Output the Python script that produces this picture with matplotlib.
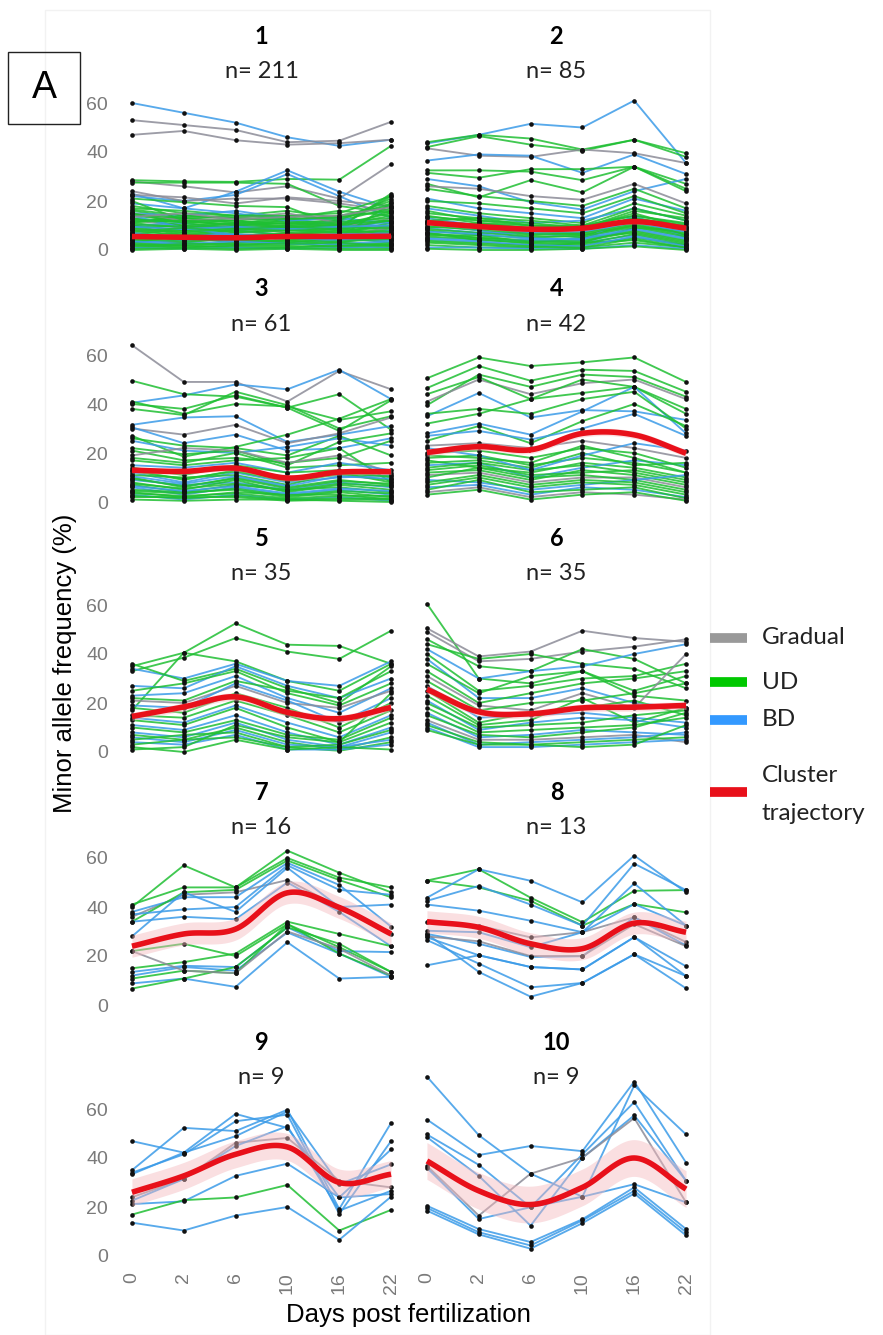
import numpy as np
import matplotlib.pyplot as plt
from matplotlib.lines import Line2D
from matplotlib.patches import Rectangle

days = ['0', '2', '6', '10', '16', '22']
counts = [211, 85, 61, 42, 35, 35, 16, 13, 9, 9]

# each row: trajectory class (G = gradual, U = UD, B = BD) + MAF at each day
p1 = [
    ('B', 60, 56, 52, 46, 42.5, 45), ('G', 53, 51, 49, 44, 44.6, 52.3),
    ('G', 47, 48.6, 44.8, 43, 43.6, 45), ('U', 28.5, 28, 27.8, 29, 28.7, 42.5),
    ('G', 28, 26, 23.5, 26, 21, 35), ('U', 27.5, 27.5, 27.5, 27, 18, 15),
    ('B', 23, 17, 23.8, 32.5, 23.8, 17), ('B', 22, 20, 22.5, 31, 22, 13),
    ('G', 24, 20, 21, 21, 19, 16), ('G', 22.5, 21.5, 19, 21.5, 20, 18),
    ('U', 21, 19.5, 18, 17.5, 9.7, 22), ('U', 18, 15, 14, 16, 13, 20),
    ('U', 16, 13, 12, 14, 15, 22), ('B', 15, 14, 16, 13, 10, 11),
    ('U', 14, 12, 10, 11, 12, 17), ('U', 13, 11, 12, 9, 10, 14),
    ('G', 12, 10, 9, 10, 8, 13), ('U', 12, 13, 11, 12, 11, 12),
    ('U', 11, 9, 10, 12, 9, 10), ('B', 10, 11, 8, 9, 12, 9),
    ('U', 10, 8, 9, 8, 7, 11), ('U', 9, 10, 7, 9, 10, 8),
    ('U', 9, 7, 8, 10, 8, 7), ('G', 8, 9, 10, 7, 6, 9),
    ('U', 8, 6, 7, 8, 9, 6), ('U', 7, 8, 6, 7, 7, 8),
    ('B', 7, 5, 8, 6, 5, 7), ('U', 6, 7, 5, 6, 8, 5),
    ('U', 6, 4, 6, 5, 6, 6), ('U', 5, 6, 4, 7, 4, 5),
    ('G', 5, 5, 6, 4, 5, 4), ('U', 4, 3, 5, 5, 3, 6),
    ('U', 4, 5, 3, 4, 5, 3), ('B', 3, 4, 4, 3, 4, 4),
    ('U', 3, 2, 3, 4, 2, 3), ('U', 2, 3, 2, 2, 3, 2),
    ('U', 2, 1, 2, 3, 1, 2), ('U', 1, 2, 1, 1, 2, 1),
    ('B', 1, 0.5, 1, 0.5, 1, 1), ('U', 0.5, 1, 0.5, 1, 0.5, 0.5),
    ('U', 0, 0.5, 0, 0.5, 0, 0), ('U', 11, 14, 13, 12, 14, 18),
    ('U', 13, 10, 11, 13, 12, 21), ('B', 19, 17, 15, 12, 13, 11),
    ('U', 17, 16, 14, 13, 16, 14), ('G', 15, 12, 13, 15, 11, 9),
    ('U', 20, 12, 10, 11, 9, 16), ('U', 6, 9, 11, 9, 7, 10),
    ('U', 3, 6, 8, 6, 9, 12), ('U', 15, 11, 9, 8, 9, 23),
    ('U', 10, 6, 4, 3, 5, 19), ('B', 14, 9, 6, 5, 4, 8),
    ('U', 12.5, 11.5, 10.5, 11, 10.5, 15), ('U', 11.5, 12, 12, 10.5, 11.5, 13),
    ('U', 10.5, 9.5, 9.5, 10, 10.5, 12), ('B', 9.5, 8.5, 9.5, 8.5, 9.5, 10),
    ('U', 8.5, 7.5, 8.5, 9.5, 8.5, 9), ('U', 7.5, 9, 7.5, 8, 7.5, 7.5),
    ('B', 6.5, 5.5, 6.5, 5.5, 6.5, 6.5), ('U', 5.5, 4.5, 5.5, 6.5, 5.5, 5.5),
    ('U', 4.5, 3.5, 4.5, 3.5, 3.5, 4.5), ('B', 3.5, 2.5, 3.5, 2.5, 2.5, 3.5),
    ('U', 2.5, 1.5, 1.5, 1.5, 1.5, 2.5), ('U', 1.5, 2.5, 2.5, 2.5, 3, 1.5),
    ('U', 16.5, 14, 13, 12.5, 13.5, 16), ('U', 14.5, 13, 14, 14, 12.5, 19),
    ('G', 13.5, 15, 12.5, 13.5, 14, 17.5),
]
p2 = [
    ('B', 43.5, 47, 51.5, 50, 61, 35.5), ('U', 44, 47, 45.5, 41, 45, 39.5),
    ('U', 42, 46.5, 43, 40.5, 45, 38), ('G', 41.5, 38.5, 38, 41, 39.5, 35.5),
    ('B', 36.5, 39, 38.5, 31.5, 39, 31), ('U', 32.5, 32.5, 32, 28.5, 34, 25),
    ('U', 31.5, 29.5, 33, 33, 34, 27), ('B', 29, 26, 19.5, 16.5, 24, 29),
    ('U', 27, 21.5, 28.5, 23.5, 34, 24), ('G', 26, 25, 22, 20.5, 27, 19),
    ('U', 25, 22, 20, 18, 25, 17), ('B', 21, 17, 15, 13, 21, 16),
    ('U', 20, 19, 17, 15, 22, 15), ('U', 18, 15, 13, 11, 19, 14),
    ('B', 17, 14, 11, 12, 17, 12), ('U', 16, 12, 11, 9, 16, 13),
    ('U', 15, 13, 10, 10, 14, 11), ('U', 14, 11, 9, 8, 13, 10),
    ('B', 13, 10, 8, 9, 12, 9), ('U', 12, 9, 7, 7, 11, 8),
    ('U', 11, 10, 8, 6, 10, 7), ('U', 10, 8, 6, 7, 12, 6),
    ('B', 9, 7, 7, 5, 9, 5), ('U', 8, 6, 5, 6, 10, 6),
    ('U', 7, 5, 4, 4, 8, 4), ('U', 6, 6, 3, 5, 7, 3),
    ('B', 5, 4, 4, 3, 6, 2), ('U', 4, 3, 2, 2, 5, 2),
    ('U', 3, 2, 1, 3, 4, 1), ('U', 2, 1, 1, 1, 3, 1),
    ('B', 1, 1, 0.5, 0.5, 2, 0.5), ('U', 0.5, 0, 0, 0.5, 1.5, 0),
    ('U', 12, 13, 12, 10, 17, 12), ('U', 9, 11, 10, 9, 15, 9),
    ('B', 11, 8, 5, 4, 14, 5), ('U', 7, 4, 3, 3, 9, 8),
    ('U', 13.5, 12, 10, 9.5, 14, 10.5), ('U', 11.5, 10.5, 9, 8.5, 13, 9.5),
    ('B', 10.5, 9, 7.5, 7.5, 11, 7.5), ('U', 9.5, 8.5, 6.5, 6.5, 10.5, 6.5),
    ('U', 8.5, 7, 5.5, 5.5, 9.5, 5.5), ('B', 7.5, 6.5, 4.5, 4.5, 8.5, 4.5),
    ('U', 6.5, 5, 3.5, 3.5, 7.5, 3.5), ('U', 5.5, 4.5, 2.5, 2.5, 6.5, 2.5),
    ('B', 4.5, 3.5, 2, 1.5, 5.5, 1.5), ('U', 3.5, 2.5, 1.5, 1, 4.5, 1),
]
p3 = [
    ('G', 64, 49, 49, 41, 53.5, 46), ('B', 40.5, 43.5, 48, 46, 54, 42),
    ('U', 49.5, 44, 43, 38.5, 44, 29.5), ('U', 40, 38, 43.5, 38.5, 29, 41.5),
    ('U', 41, 36, 40, 39, 33.5, 37), ('U', 38, 35.5, 45, 39.5, 30, 35),
    ('B', 31.5, 34.5, 35, 24.5, 27.5, 31), ('G', 30, 27.5, 31.5, 24, 28, 34.5),
    ('B', 30.5, 24, 27.5, 21, 22, 26), ('U', 27, 18.5, 22.5, 27.5, 34, 42),
    ('U', 26, 23, 22, 19, 27, 19), ('B', 25, 21, 20, 22.5, 26, 23),
    ('U', 22, 19.5, 21, 15, 24.5, 28), ('U', 21, 17, 18, 16, 18, 25),
    ('G', 19, 22, 21, 16, 19, 12), ('U', 18, 16, 20, 14, 15, 16),
    ('U', 17, 15, 17, 18, 22, 8), ('B', 15, 14, 16, 12, 16, 13),
    ('U', 14, 11, 15, 12, 13, 10), ('U', 13, 9, 13, 9, 11, 9),
    ('B', 12, 8, 12, 8, 10, 11), ('U', 11, 10, 11, 7, 12, 8),
    ('U', 10, 6, 10, 6, 9, 7), ('B', 9, 7, 8, 5, 8, 6),
    ('U', 8, 5, 9, 4, 7, 5), ('U', 7, 4, 7, 5, 6, 4),
    ('B', 6, 3, 6, 3, 5, 3), ('U', 5, 4, 5, 2, 4, 2),
    ('U', 4, 2, 4, 3, 3, 1), ('B', 3, 1, 3, 1, 2, 0.5),
    ('U', 2, 2, 2, 0.5, 1, 1), ('U', 1, 0.5, 1, 1, 0.5, 0),
    ('U', 12.5, 9.5, 12.5, 8.5, 11.5, 10.5), ('B', 10.5, 7.5, 10.5, 6.5, 10.5, 9.5),
    ('U', 9.5, 6.5, 9.5, 5.5, 8.5, 7.5), ('U', 7.5, 5.5, 7.5, 4.5, 7.5, 6.5),
    ('B', 6.5, 4.5, 6.5, 3.5, 5.5, 4.5), ('U', 4.5, 3.5, 5.5, 2.5, 4.5, 3.5),
    ('U', 3.5, 2.5, 3.5, 1.5, 2.5, 2.5), ('U', 2.5, 1.5, 2.5, 1, 1.5, 1.5),
]
p4 = [
    ('U', 50.5, 59, 55.5, 57, 59, 49), ('U', 46.5, 55.5, 49.5, 54, 53.5, 45),
    ('U', 39.5, 52, 47, 52, 51, 43), ('G', 41, 50, 44, 48.5, 50, 42),
    ('U', 44, 51, 42, 50, 47, 38), ('B', 35, 44.5, 34.5, 37.5, 37, 33.5),
    ('U', 32, 36, 42, 44.5, 47, 36), ('B', 28, 32, 27.5, 37, 47, 28),
    ('U', 36, 38, 36, 42, 45, 30), ('U', 25, 31, 24, 33, 40, 31),
    ('B', 27, 29, 25.5, 30, 36, 27), ('G', 23, 24, 22, 25, 22, 18),
    ('U', 18, 19, 15, 18, 16, 12), ('U', 17, 14, 12, 16, 14, 10),
    ('B', 15, 16, 10, 14, 17, 15), ('U', 14, 16, 13, 15, 12, 8),
    ('U', 13, 15, 11, 12, 13, 9), ('U', 12, 13, 9, 13, 11, 7),
    ('G', 11, 12, 8, 10, 10, 6), ('U', 10, 14, 10, 11, 9, 5),
    ('B', 9, 8, 5, 7, 9, 11), ('U', 8, 11, 7, 9, 8, 4),
    ('U', 7, 10, 6, 8, 7, 3), ('B', 6, 7, 3, 6, 5, 2),
    ('U', 5, 9, 4, 5, 6, 1.5), ('G', 4, 6, 2, 4, 3, 1),
    ('U', 3, 5, 1, 3, 4, 0.5), ('U', 16, 17, 14, 20, 15, 16),
    ('U', 20, 21, 18, 22, 20, 14), ('B', 22, 19, 13, 19, 24, 21),
    ('U', 19, 18, 16, 23, 18, 12),
]
p5 = [
    ('U', 35, 40.5, 52.5, 43.8, 43.3, 36), ('U', 33, 38.5, 46.5, 41, 38, 49.5),
    ('U', 17, 40.5, 37, 29, 25, 36), ('B', 34, 30, 36, 29, 27, 37),
    ('U', 36, 29, 34, 26, 20, 35), ('B', 27, 26, 35, 27, 22, 30),
    ('U', 25, 28, 33, 24, 19, 28), ('B', 23, 24, 31, 22, 16, 26),
    ('U', 22, 21, 29, 25, 22, 33), ('G', 21, 20, 27, 20, 18, 25),
    ('B', 19, 18, 28, 21, 12, 22), ('U', 18, 16, 24, 18, 10, 20),
    ('U', 15, 14, 21, 15, 8, 17), ('B', 14, 12, 19, 12, 6, 15),
    ('U', 13, 11, 18, 10, 4, 12), ('B', 11, 9, 15, 8, 3, 10),
    ('U', 10, 8, 13, 7, 5, 14), ('B', 8, 6, 12, 5, 2, 8),
    ('U', 7, 5, 10, 4, 1, 6), ('B', 6, 4, 9, 3, 2, 5),
    ('U', 5, 7, 8, 2, 0.5, 4), ('B', 4, 3, 7, 1, 1, 3),
    ('U', 3, 5, 6, 2, 3, 9), ('U', 2, 0, 5, 1, 2, 1),
    ('U', 1, 2, 11, 6, 4, 24),
]
p6 = [
    ('U', 60.5, 30, 28, 33, 25, 31), ('G', 50.5, 39, 41, 49.5, 46.5, 45),
    ('G', 49, 37, 38, 41, 43, 46), ('U', 46, 35, 33, 42, 38, 28),
    ('U', 44, 38, 40, 36, 34, 26), ('B', 42, 30, 33, 35, 40, 44),
    ('U', 40, 25, 27, 30, 31, 36), ('B', 38, 22, 22, 26, 20, 18),
    ('U', 36, 24, 31, 33, 23, 21), ('U', 33, 20, 24, 28, 30, 33),
    ('G', 31, 19, 17, 24, 18, 40), ('U', 29, 17, 20, 21, 24, 28),
    ('B', 27, 14, 15, 16, 14, 12), ('U', 25, 12, 16, 18, 21, 15),
    ('U', 23, 11, 13, 22, 12, 18), ('B', 21, 9, 12, 14, 13, 10),
    ('U', 20, 10, 11, 12, 15, 17), ('U', 18, 8, 9, 10, 11, 14),
    ('B', 16, 6, 7, 9, 8, 7), ('U', 15, 7, 6, 8, 10, 16),
    ('G', 13, 5, 5, 6, 7, 4), ('B', 12, 3, 4, 5, 6, 8),
    ('U', 11, 4, 3, 4, 5, 6), ('B', 10, 2, 2, 3, 4, 5),
    ('U', 9, 3, 3, 2, 3, 11),
]
p7 = [
    ('U', 40, 57, 48, 63, 54, 46), ('U', 41, 48, 48, 60, 52, 48),
    ('G', 36, 45, 46, 51, 40, 29), ('B', 38, 44, 44, 58, 49, 32),
    ('U', 34, 46, 47, 59, 51, 44), ('B', 37, 39, 40, 57, 47, 45),
    ('B', 28, 46, 38, 56, 40, 41), ('B', 34, 36, 35, 50, 38, 24),
    ('U', 15, 17.5, 21, 34, 29, 24), ('U', 22, 25, 20, 33, 23.6, 13.5),
    ('B', 13.5, 16, 15.5, 31.7, 22, 21.6), ('B', 12, 15.5, 14, 29.6, 21, 11.5),
    ('U', 10.8, 14, 13, 33, 21, 12), ('B', 8.8, 10.8, 7.4, 25.6, 10.8, 11.5),
    ('U', 6.7, 10.8, 15.5, 31.7, 25, 13.5), ('G', 22, 14, 13, 30, 23, 12),
]
p8 = [
    ('U', 50.8, 55.4, 43.8, 33.8, 46.6, 46.9), ('U', 50.8, 48, 42.5, 32.4, 41.2, 37.8),
    ('B', 43.8, 55.4, 50.7, 41.9, 61, 46), ('B', 42.5, 48.6, 41, 32.4, 57.7, 46.9),
    ('B', 41, 38.5, 34.4, 29.7, 49.6, 32.4), ('G', 34, 32.4, 27.6, 29.7, 35.8, 25.7),
    ('B', 30.3, 29.7, 23.6, 29.7, 41.2, 32.4), ('B', 29, 25, 19.6, 19.9, 35.8, 24.3),
    ('B', 27.6, 20.3, 15.5, 14.5, 27.7, 15.8), ('B', 26.5, 16.9, 7.2, 9, 20.7, 11.8),
    ('B', 16.2, 20.3, 15.5, 14.5, 27.7, 11.8), ('B', 29, 13.5, 3.4, 9, 20.7, 6.8),
    ('G', 28, 26, 20, 20, 33, 24),
]
p9 = [
    ('B', 46.9, 42.2, 58, 52.3, 23.9, 43.5), ('B', 35, 52.3, 51, 59.7, 19.2, 54.3),
    ('B', 34, 41.5, 55, 57.7, 17.2, 46.9), ('B', 33.4, 42.2, 48.9, 59, 29.3, 37.4),
    ('G', 24, 31.4, 46.2, 48.2, 30.7, 28), ('B', 22.6, 31.4, 44.9, 53, 18.5, 26.6),
    ('B', 21.2, 22.3, 32.7, 37.7, 23.9, 25.3), ('U', 16.9, 22.8, 23.9, 29, 10.4, 18.8),
    ('B', 13.6, 10.4, 16.5, 20, 6.6, 24.2),
]
p10 = [
    ('B', 73.2, 49.3, 33.6, 24.2, 69.6, 49.6), ('B', 55.7, 41.2, 44.9, 42.8, 71.2, 38.1),
    ('B', 49.6, 37.2, 19.9, 41.5, 62.8, 30.7), ('B', 48.5, 32.7, 12.4, 40.1, 57.4, 30.7),
    ('G', 36.8, 16.5, 33.6, 40.1, 56.3, 21.9), ('B', 36, 15.1, 19.9, 24.2, 29.3, 21.9),
    ('B', 20.5, 11, 5.7, 15, 28, 11), ('B', 19.6, 9.7, 4.3, 14.5, 26.6, 9.7),
    ('B', 18.5, 8.8, 3, 13.4, 25.5, 8.4),
]
panels = [p1, p2, p3, p4, p5, p6, p7, p8, p9, p10]

# cluster trajectories and half-width of the confidence ribbon
traj = [
    [5.5, 5.2, 5.0, 5.5, 5.5, 5.6],
    [11.2, 9.6, 8.5, 8.9, 11.6, 8.9],
    [13.0, 12.5, 13.8, 9.8, 12.2, 12.4],
    [20.2, 22.6, 21.3, 28.0, 27.4, 19.9],
    [14.5, 18.4, 22.5, 16.2, 13.6, 18.2],
    [25.6, 16.4, 15.6, 18.0, 18.3, 19.0],
    [24.0, 29.0, 31.0, 45.8, 39.8, 29.0],
    [34.0, 31.7, 25.0, 23.0, 33.4, 29.7],
    [26.0, 32.7, 41.5, 44.5, 30.0, 33.4],
    [38.8, 26.6, 21.0, 28.0, 40.0, 27.3],
]
band = [0.6, 1.0, 1.2, 1.5, 1.6, 1.6, 4.5, 4.5, 5.5, 7.5]

colors = {'G': '#8c8c98', 'U': '#1fbf33', 'B': '#3b9be8'}
RED = '#e8101a'
TICK = '#7a7a7a'


def smooth(y, n=24):
    # Catmull-Rom spline through the six time points
    y = np.asarray(y, float)
    ext = np.concatenate([[2 * y[0] - y[1]], y, [2 * y[-1] - y[-2]]])
    xs, ys = [], []
    t = np.linspace(0, 1, n)
    for i in range(len(y) - 1):
        a, b, c, d = ext[i:i + 4]
        v = 0.5 * (2 * b + (-a + c) * t + (2 * a - 5 * b + 4 * c - d) * t ** 2
                   + (-a + 3 * b - 3 * c + d) * t ** 3)
        xs.append(i + t)
        ys.append(v)
    return np.concatenate(xs), np.concatenate(ys)


W, H = 883, 1335
fig = plt.figure(figsize=(W / 100, H / 100), dpi=100)

# faint outline around the panel area
fig.patches.append(Rectangle((45 / W, 0), 665 / W, 1 - 10 / H, transform=fig.transFigure,
                             fill=False, edgecolor='#f2f2f2', lw=1.0))

row_zero = [250, 502, 752, 1005, 1256]   # pixel row of y = 0
col_left = [119, 414]
ylo, yhi = -2, 74
ppu = 147 / 60.0
ax_h = (yhi - ylo) * ppu
ax_w = 285

x = np.arange(6)
for k, lines in enumerate(panels):
    r, c = divmod(k, 2)
    bottom = row_zero[r] - ylo * ppu
    ax = fig.add_axes([col_left[c] / W, 1 - bottom / H, ax_w / W, ax_h / H])
    for cls, *vals in lines:
        ax.plot(x, vals, color=colors[cls], lw=1.35, alpha=0.85, zorder=2)
    allv = np.array([vals for _, *vals in lines])
    ax.scatter(np.tile(x, len(lines)), allv.ravel(), s=11, color='#111111',
               linewidths=0, zorder=3)
    xs, ys = smooth(traj[k])
    _, lo = smooth(np.array(traj[k]) - band[k])
    _, hi = smooth(np.array(traj[k]) + band[k])
    ax.fill_between(xs, lo, hi, color='#f4b8be', alpha=0.45, lw=0, zorder=4)
    ax.plot(xs, ys, color=RED, lw=4.0, solid_capstyle='butt', zorder=5)

    ax.set_xlim(-0.25, 5.25)
    ax.set_ylim(ylo, yhi)
    for s in ax.spines.values():
        s.set_visible(False)
    ax.set_yticks([0, 20, 40, 60])
    ax.set_xticks(x)
    ax.tick_params(length=0, colors=TICK, labelsize=14, pad=8)
    if c == 0:
        ax.set_yticklabels(['0', '20', '40', '60'], family='Liberation Sans', color=TICK)
    else:
        ax.set_yticklabels([])
    if r == 4:
        ax.set_xticklabels(days, rotation=90, family='Liberation Sans', color=TICK)
    else:
        ax.set_xticklabels([])
    ax.patch.set_alpha(0)

    top_off = (bottom - (row_zero[r] - 213)) / ax_h
    n_off = (bottom - (row_zero[r] - 178)) / ax_h
    ax.text(0.5, top_off, str(k + 1), transform=ax.transAxes, ha='center', va='center',
            fontsize=17, fontweight='bold', family='Lato')
    ax.text(0.5, n_off, f'n= {counts[k]}', transform=ax.transAxes, ha='center',
            va='center', fontsize=17, family='Lato', color='#222222')

fig.text(65 / W, 1 - 663 / H, 'Minor allele frequency (%)', rotation=90,
         ha='center', va='center', fontsize=18.5, family='Liberation Sans')
fig.text(408 / W, 1 - 1315 / H, 'Days post fertilization', ha='center', va='center',
         fontsize=18.5, family='Liberation Sans')

# panel letter
fig.patches.append(Rectangle((8 / W, 1 - 124 / H), 72 / W, 72 / H, transform=fig.transFigure,
                             fill=False, edgecolor='#222222', lw=1.0))
fig.text(44 / W, 1 - 88 / H, 'A', ha='center', va='center', fontsize=27,
         family='Liberation Sans')

# legend
legend_items = [('Gradual', '#999999', 638), ('UD', '#00c800', 682),
                ('BD', '#3399ff', 720), ('Cluster', RED, 792)]
for label, col, ypx in legend_items:
    fig.lines.append(Line2D([710 / W, 747 / W], [1 - ypx / H] * 2, color=col, lw=7,
                            solid_capstyle='butt', transform=fig.transFigure))
    if label != 'Cluster':
        fig.text(762 / W, 1 - ypx / H, label, va='center', fontsize=17.5, family='Lato',
                 color='#222222')
fig.text(762 / W, 1 - 775 / H, 'Cluster', va='center', fontsize=17.5, family='Lato',
         color='#222222')
fig.text(762 / W, 1 - 813 / H, 'trajectory', va='center', fontsize=17.5, family='Lato',
         color='#222222')

fig.savefig('out.png', dpi=100)
